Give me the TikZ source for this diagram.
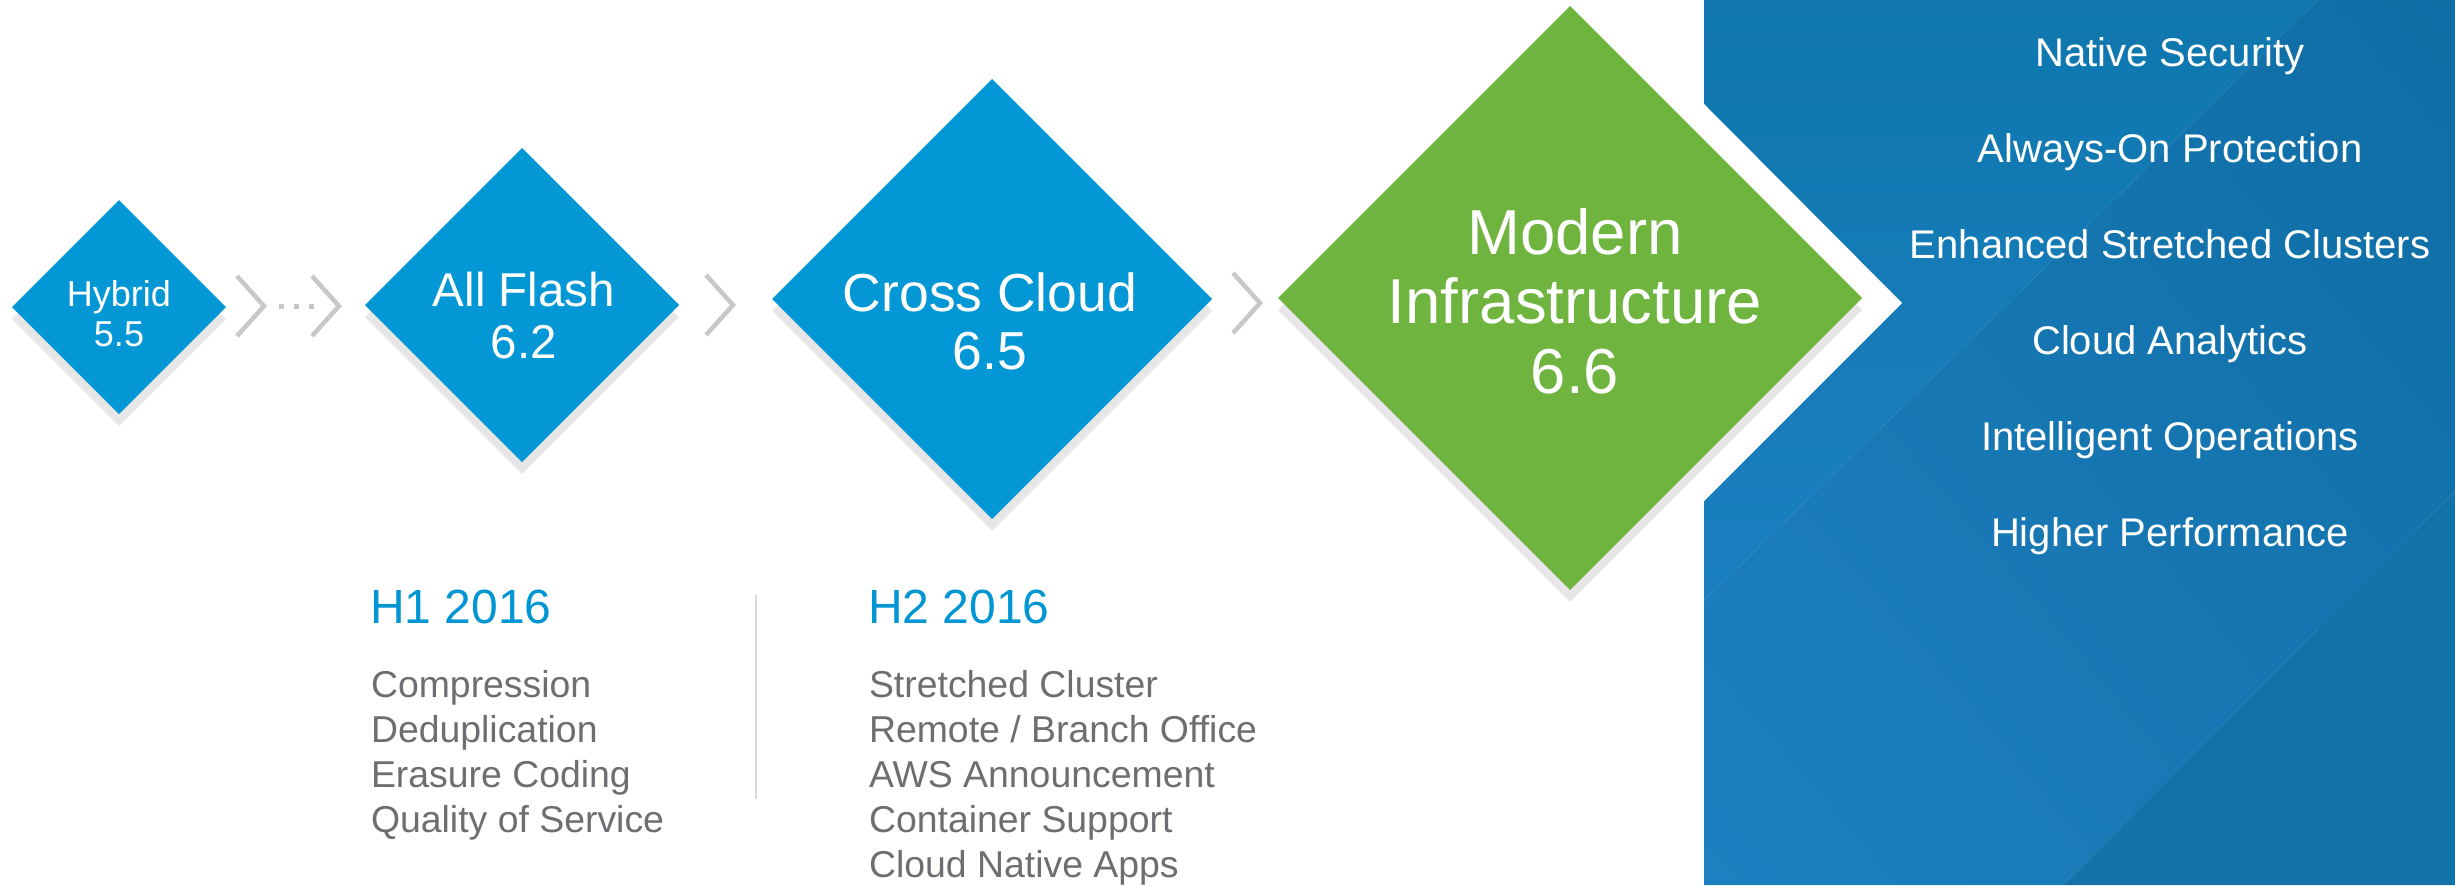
\documentclass[tikz,border=0pt]{standalone}
\usepackage{fontspec}
\setmainfont{Liberation Sans}
\usetikzlibrary{shapes.geometric,shadings}
\definecolor{gemblue}{HTML}{0397D6}
\definecolor{gemgreen}{HTML}{6FB43F}
\definecolor{shadowgrey}{HTML}{E6E6E6}
\definecolor{chevgrey}{HTML}{C8C8C8}
\definecolor{dividergrey}{HTML}{D9D9D9}
\definecolor{headblue}{HTML}{0095D3}
\definecolor{itemgrey}{HTML}{6D6E71}
\definecolor{pAtop}{HTML}{0F77AE}
\definecolor{pAbot}{HTML}{1A80C0}
\definecolor{pBur}{HTML}{0E6DA3}
\definecolor{pBmid}{HTML}{1676B2}
\definecolor{pBll}{HTML}{1E80C0}
\definecolor{pC}{HTML}{1273A9}
\begin{document}
\begin{tikzpicture}[x=0.5pt,y=-0.5pt,
  every node/.style={inner sep=0pt, outer sep=0pt},
  gem/.style={diamond, minimum width=#1, minimum height=#1, inner sep=0pt, draw=none},
  gemlabel/.style={text=white, align=center},
  chev/.style={draw=chevgrey, line width=2.25pt, miter limit=10},
  item/.style={anchor=base west, text=itemgrey, font=\fontsize{18.7}{22}\selectfont},
  head/.style={anchor=base west, text=headblue, font=\fontsize{24}{26}\selectfont},
  feat/.style={anchor=base, text=white, font=\fontsize{20}{24}\selectfont}]
\useasboundingbox (0,0) rectangle (2455,885);
% right panel
\shade[upper left=pAtop, upper right=pAtop, lower left=pAbot, lower right=pAbot]
  (1704,0) -- (2318,0) -- (1704,601) -- cycle;
\shade[upper left=pBmid, upper right=pBur, lower left=pBll, lower right=pBmid]
  (2318,0) -- (2455,0) -- (2455,491) -- (2063,885) -- (1704,885) -- (1704,601) -- cycle;
\fill[pC] (2063,885) -- (2455,491) -- (2455,885) -- cycle;
\fill[white] (1704,104) -- (1902,303) -- (1704,501) -- cycle;
% diamonds
\node[gem=107pt, fill=shadowgrey] (hybs) at (119,319) {};
\node[gem=107pt, fill=gemblue] (hyb) at (119,307) {};
\node[gemlabel, font=\fontsize{18}{20}\selectfont] (hybl) at (119,313.5) {Hybrid\\5.5};
\node[gem=157pt, fill=shadowgrey] (afs) at (522,317) {};
\node[gem=157pt, fill=gemblue] (af) at (522,305) {};
\node[gemlabel, font=\fontsize{23.75}{26}\selectfont] (afl) at (524,316) {All Flash\\6.2};
\node[gem=220pt, fill=shadowgrey] (ccs) at (992,311) {};
\node[gem=220pt, fill=gemblue] (cc) at (992,299) {};
\node[gemlabel, font=\fontsize{26.75}{29}\selectfont] (ccl) at (990,321.5) {Cross Cloud\\6.5};
\node[gem=292pt, fill=shadowgrey] (mis) at (1570,310) {};
\node[gem=292pt, fill=gemgreen] (mi) at (1570,298) {};
\node[gemlabel, font=\fontsize{31.75}{34.75}\selectfont] (mil) at (1575,301) {Modern\\Infrastructure\\6.6};
% chevrons
\coordinate (t1) at (264,306);
\coordinate (t2) at (339,306);
\coordinate (t3) at (733,305);
\coordinate (t4) at (1260,303);
\foreach \t in {t1,t2,t3,t4}
  \draw[chev] ([shift={(-27,-30)}]\t) -- (\t) -- ([shift={(-27,30)}]\t);
\foreach \x in {281,296,311}
  \fill[chevgrey] (\x-2.5,303.5) rectangle ++(5,5);
% divider
\coordinate (dvt) at (756,595);
\coordinate (dvb) at (756,799);
\draw[dividergrey, line width=1pt] (dvt) -- (dvb);
% lists
\node[head] (h1) at (370,623) {H1 2016};
\foreach \t [count=\i] in {Compression, Deduplication, Erasure Coding, Quality of Service}
  \node[item] (a\i) at (371,652+45*\i) {\t};
\node[head] (h2) at (868,623) {H2 2016};
\foreach \t [count=\i] in {Stretched Cluster, Remote / Branch Office, AWS Announcement, Container Support, Cloud Native Apps}
  \node[item] (b\i) at (869,652+45*\i) {\t};
\foreach \t [count=\i] in {Native Security, Always-On Protection, Enhanced Stretched Clusters, Cloud Analytics, Intelligent Operations, Higher Performance}
  \node[feat] (f\i) at (2170,-30+96*\i) {\t};
\end{tikzpicture}
\end{document}
